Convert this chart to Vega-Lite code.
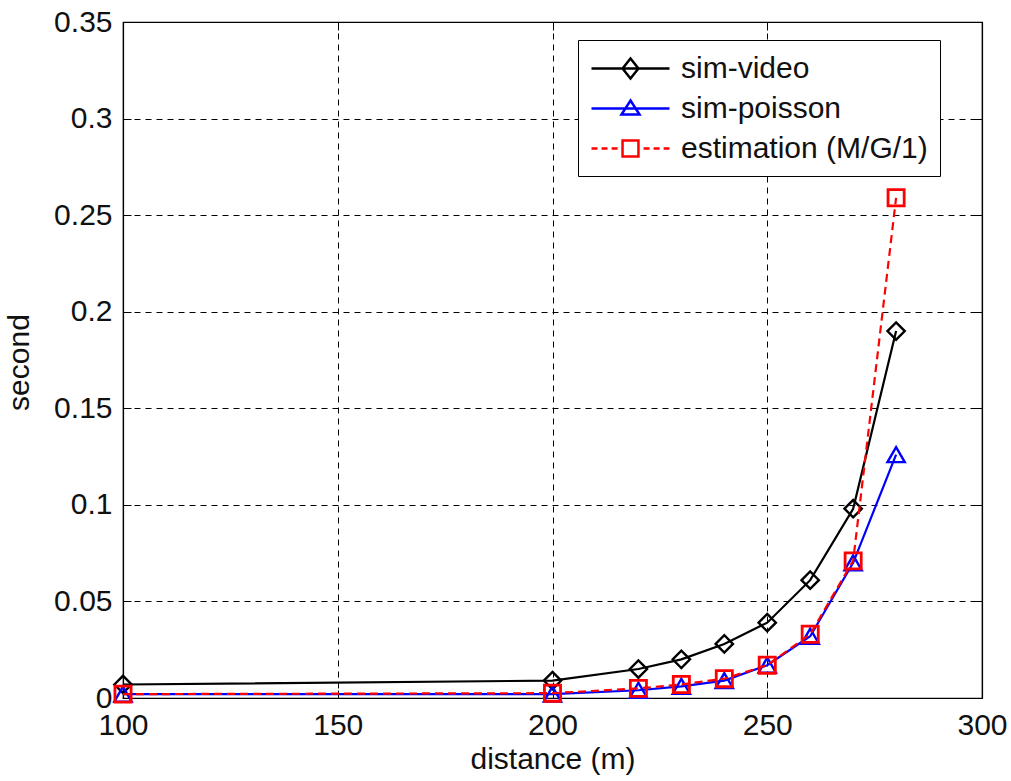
{
  "$schema": "https://vega.github.io/schema/vega-lite/v6.json",
  "width": 859,
  "height": 676,
  "autosize": {"type": "none"},
  "padding": {"left": 123, "top": 22, "right": 29, "bottom": 83},
  "background": "white",
  "config": {
    "font": "Liberation Sans",
    "view": {"stroke": "black", "strokeWidth": 1.2},
    "axis": {
      "domainColor": "black",
      "domainWidth": 1.2,
      "gridColor": "black",
      "gridDash": [6, 5],
      "gridOpacity": 1,
      "gridWidth": 1,
      "tickColor": "black",
      "tickWidth": 1,
      "tickSize": -8,
      "labelFlush": false,
      "labelOverlap": false,
      "labelColor": "#111",
      "labelFontSize": 30,
      "labelFont": "Liberation Sans",
      "titleColor": "#111",
      "titleFontSize": 30,
      "titleFontWeight": "normal",
      "titleFont": "Liberation Sans"
    }
  },
  "data": {
    "values": [
      {"series": "sim-video", "distance": 100, "delay": 0.007},
      {"series": "sim-video", "distance": 200, "delay": 0.009},
      {"series": "sim-video", "distance": 220, "delay": 0.015},
      {"series": "sim-video", "distance": 230, "delay": 0.020},
      {"series": "sim-video", "distance": 240, "delay": 0.028},
      {"series": "sim-video", "distance": 250, "delay": 0.039},
      {"series": "sim-video", "distance": 260, "delay": 0.061},
      {"series": "sim-video", "distance": 270, "delay": 0.098},
      {"series": "sim-video", "distance": 280, "delay": 0.190},
      {"series": "sim-poisson", "distance": 100, "delay": 0.002},
      {"series": "sim-poisson", "distance": 200, "delay": 0.002},
      {"series": "sim-poisson", "distance": 220, "delay": 0.004},
      {"series": "sim-poisson", "distance": 230, "delay": 0.006},
      {"series": "sim-poisson", "distance": 240, "delay": 0.009},
      {"series": "sim-poisson", "distance": 250, "delay": 0.017},
      {"series": "sim-poisson", "distance": 260, "delay": 0.032},
      {"series": "sim-poisson", "distance": 270, "delay": 0.070},
      {"series": "sim-poisson", "distance": 280, "delay": 0.126},
      {"series": "estimation (M/G/1)", "distance": 100, "delay": 0.002},
      {"series": "estimation (M/G/1)", "distance": 200, "delay": 0.0025},
      {"series": "estimation (M/G/1)", "distance": 220, "delay": 0.005},
      {"series": "estimation (M/G/1)", "distance": 230, "delay": 0.007},
      {"series": "estimation (M/G/1)", "distance": 240, "delay": 0.010},
      {"series": "estimation (M/G/1)", "distance": 250, "delay": 0.017},
      {"series": "estimation (M/G/1)", "distance": 260, "delay": 0.033},
      {"series": "estimation (M/G/1)", "distance": 270, "delay": 0.071},
      {"series": "estimation (M/G/1)", "distance": 280, "delay": 0.259}
    ]
  },
  "layer": [
    {
      "transform": [{"filter": "datum.series === 'sim-video'"}],
      "mark": {"type": "line", "strokeWidth": 2.2, "point": {"shape": "diamond", "filled": false, "size": 300, "strokeWidth": 2.4}},
      "encoding": {
        "x": {
          "field": "distance", "type": "quantitative",
          "scale": {"domain": [100, 300], "nice": false},
          "axis": {"orient": "bottom", "values": [100, 150, 200, 250, 300], "title": "distance (m)", "labelPadding": 20, "titlePadding": 4}
        },
        "y": {
          "field": "delay", "type": "quantitative",
          "scale": {"domain": [0, 0.35], "nice": false, "zero": true},
          "axis": {"orient": "left", "values": [0, 0.05, 0.1, 0.15, 0.2, 0.25, 0.3, 0.35], "format": "~g", "title": "second", "labelPadding": 19, "titleX": -89, "titleY": 340, "titleAnchor": "middle"}
        },
        "color": {
          "field": "series", "type": "nominal",
          "scale": {"domain": ["sim-video", "sim-poisson", "estimation (M/G/1)"], "range": ["black", "blue", "red"]},
          "legend": {
            "orient": "none",
            "legendX": 455,
            "legendY": 18,
            "title": null,
            "direction": "vertical",
            "strokeColor": "black",
            "fillColor": "white",
            "padding": 12,
            "symbolType": "M-1,0H1",
            "symbolSize": 900,
            "symbolStrokeWidth": 2.5,
            "symbolFillColor": "transparent",
            "labelFontSize": 30,
            "labelFont": "Liberation Sans",
            "labelColor": "#111",
            "labelOffset": 58,
            "rowPadding": 8,
            "labelLimit": 400,
            "encode": {
              "symbols": {
                "update": {
                  "shape": {"signal": "datum.value === 'sim-video' ? 'M-1,0H4.2M1.6,-0.67L2.13,0L1.6,0.67L1.07,0Z' : (datum.value === 'sim-poisson' ? 'M-1,0H4.2M1.6,-0.53L2.2,0.4L1,0.4Z' : 'M-1,0H-0.6M-0.33,0H0.07M0.34,0H0.74M1,0H1.07M2.13,0H2.2M2.47,0H2.87M3.14,0H3.54M3.81,0H4.2M1.07,-0.53H2.13V0.53H1.07Z')"},
                  "fill": {"value": "transparent"},
                  "strokeWidth": {"value": 2.5}
                }
              }
            }
          }
        }
      }
    },
    {
      "transform": [{"filter": "datum.series === 'sim-poisson'"}],
      "mark": {"type": "line", "strokeWidth": 2.2, "point": {"shape": "triangle-up", "filled": false, "size": 300, "strokeWidth": 2.4}},
      "encoding": {
        "x": {"field": "distance", "type": "quantitative", "axis": null},
        "y": {"field": "delay", "type": "quantitative", "axis": null},
        "color": {"field": "series", "type": "nominal", "legend": null}
      }
    },
    {
      "transform": [{"filter": "datum.series === 'estimation (M/G/1)'"}],
      "mark": {"type": "line", "strokeWidth": 2.2, "strokeDash": [8, 5], "point": {"shape": "square", "filled": false, "size": 260, "strokeWidth": 2.8}},
      "encoding": {
        "x": {"field": "distance", "type": "quantitative", "axis": null},
        "y": {"field": "delay", "type": "quantitative", "axis": null},
        "color": {"field": "series", "type": "nominal", "legend": null}
      }
    },
    {
      "mark": {"type": "point", "opacity": 0},
      "encoding": {
        "x": {"field": "distance", "type": "quantitative", "axis": {"orient": "top", "values": [100, 150, 200, 250, 300], "labels": false, "grid": false, "title": null}},
        "y": {"field": "delay", "type": "quantitative", "axis": {"orient": "right", "values": [0, 0.05, 0.1, 0.15, 0.2, 0.25, 0.3, 0.35], "labels": false, "grid": false, "title": null}}
      }
    }
  ],
  "resolve": {"axis": {"x": "independent", "y": "independent"}}
}
